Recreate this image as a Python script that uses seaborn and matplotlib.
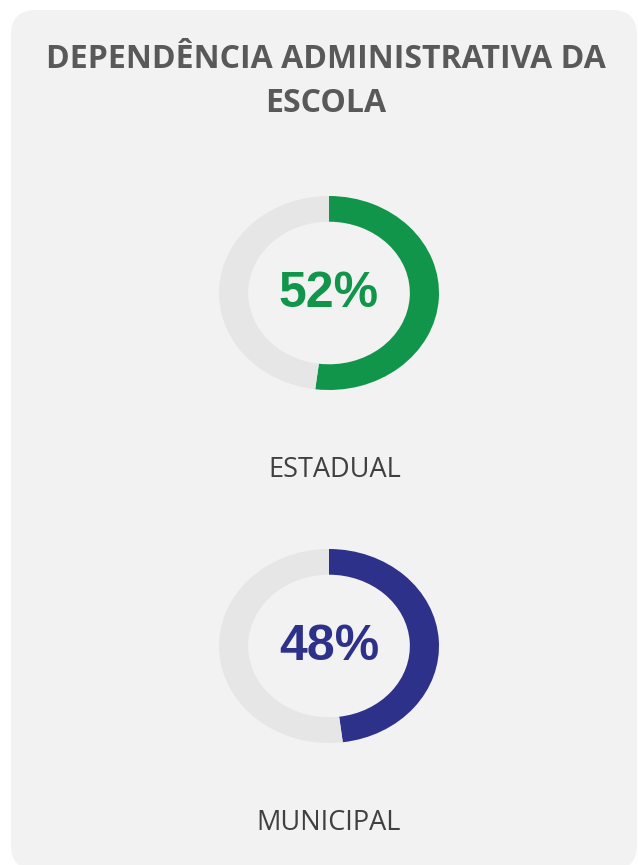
import matplotlib
matplotlib.use("Agg")
import matplotlib.pyplot as plt
from matplotlib.patches import FancyBboxPatch
import seaborn as sns

sns.set_style("white")

title_lines = ["DEPENDÊNCIA ADMINISTRATIVA DA", "ESCOLA"]
categories = ["ESTADUAL", "MUNICIPAL"]
values = [52, 48]
colors = ["#10954a", "#2e3189"]
track_color = "#e6e6e6"

W, H = 638, 865
fig = plt.figure(figsize=(W / 100, H / 100), dpi=100)
fig.patch.set_facecolor("white")

bg = fig.add_axes([0, 0, 1, 1])
bg.set_xlim(0, W)
bg.set_ylim(H, 0)
bg.axis("off")
panel = FancyBboxPatch((11 + 25, 10 + 25), 626 - 50, 860 - 50,
                       boxstyle="round,pad=25", facecolor="#f2f2f2",
                       edgecolor="none")
bg.add_patch(panel)

bg.text(326, 59, title_lines[0], ha="center", va="center",
        fontsize=23, fontweight="bold", color="#595959", family="Open Sans")
bg.text(326, 104, title_lines[1], ha="center", va="center",
        fontsize=23, fontweight="bold", color="#595959", family="Open Sans")

centers_y = [293, 646]
label_y = [470, 823]
label_x = [335, 329]
cx, rx, ry = 329, 110, 97
for i, (cat, val, col) in enumerate(zip(categories, values, colors)):
    cy = centers_y[i]
    ax = fig.add_axes([(cx - rx) / W, (H - cy - ry) / H, 2 * rx / W, 2 * ry / H])
    ax.pie([val, 100 - val], colors=[col, track_color], startangle=90,
           counterclock=False, radius=1,
           wedgeprops=dict(width=0.265, edgecolor="none"))
    ax.set_aspect("auto")
    ax.set_xlim(-1, 1)
    ax.set_ylim(-1, 1)
    ax.axis("off")
    bg.text(cx, cy + 1, f"{val}%", ha="center", va="center",
            fontsize=36, fontweight="bold", color=col, family="Liberation Sans")
    bg.text(label_x[i], label_y[i], cat, ha="center", va="center",
            fontsize=19.5, color="#404040", family="Open Sans")

fig.savefig("out.png", dpi=100, facecolor="white")
